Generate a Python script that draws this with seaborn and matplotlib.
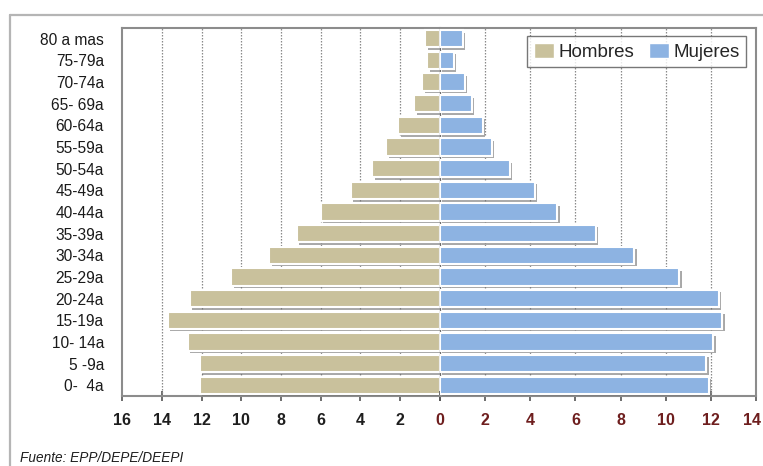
import matplotlib
matplotlib.use("Agg")
import matplotlib.pyplot as plt
import matplotlib.patheffects as pe
import matplotlib.transforms as mtransforms
from matplotlib.patches import Patch
from matplotlib.lines import Line2D
import pandas as pd
import seaborn as sns

# Age groups, top to bottom
grupos = ["80 a mas", "75-79a", "70-74a", "65- 69a", "60-64a", "55-59a", "50-54a",
          "45-49a", "40-44a", "35-39a", "30-34a", "25-29a", "20-24a", "15-19a",
          "10- 14a", "5 -9a", "0-  4a"]
# Population share (%) by sex
hombres = [0.75, 0.65, 0.9, 1.3, 2.1, 2.7, 3.4, 4.5, 6.0, 7.2, 8.6, 10.5, 12.6, 13.7, 12.7, 12.1, 12.1]
mujeres = [1.0, 0.6, 1.1, 1.4, 1.9, 2.3, 3.1, 4.2, 5.2, 6.9, 8.6, 10.6, 12.35, 12.5, 12.1, 11.8, 11.9]

ticks_h = [16, 14, 12, 10, 8, 6, 4, 2, 0]
ticks_m = [0, 2, 4, 6, 8, 10, 12, 14]

df = pd.DataFrame({"grupo": grupos, "Hombres": hombres, "Mujeres": mujeres})

sns.set_theme(style="white")
plt.rcParams["font.family"] = ["Liberation Sans", "DejaVu Sans"]

TAN = "#C9C19C"
BLUE = "#8DB3E2"
DARKRED = "#6E1E1E"
SPINE = "#8C8C8C"
W, H = 763, 466

fig = plt.figure(figsize=(W / 100, H / 100), dpi=100)
x0, x1, x2 = 122, 440, 756
ytop, ybot = 28, 396
axL = fig.add_axes([x0 / W, 1 - ybot / H, (x1 - x0) / W, (ybot - ytop) / H])
axR = fig.add_axes([x1 / W, 1 - ybot / H, (x2 - x1) / W, (ybot - ytop) / H])

shadow = [pe.SimplePatchShadow(offset=(1.8, -1.8), shadow_rgbFace="#6f6f6f", alpha=0.6), pe.Normal()]

sns.barplot(data=df, y="grupo", x="Hombres", order=grupos, color=TAN, saturation=1,
            width=0.8, edgecolor="white", linewidth=1.5, ax=axL, zorder=3)
sns.barplot(data=df, y="grupo", x="Mujeres", order=grupos, color=BLUE, saturation=1,
            width=0.8, edgecolor="white", linewidth=1.5, ax=axR, zorder=3)

for ax in (axL, axR):
    for p in ax.patches:
        p.set_path_effects(shadow)
    ax.set_xlabel("")
    ax.set_ylabel("")
    for s in ax.spines.values():
        s.set_color(SPINE)
        s.set_linewidth(1.5)
    ax.grid(False)

axL.set_xlim(16, 0)
axL.set_xticks(ticks_h)
axL.set_xticklabels([str(t) for t in ticks_h])
axL.spines["right"].set_visible(False)
for t in ticks_h[1:-1]:
    axL.axvline(t, color="#8a8a8a", lw=0.9, ls=(0, (1.2, 1.2)), zorder=1)

axR.set_xlim(0, 14)
axR.set_xticks(ticks_m)
axR.set_xticklabels([str(t) for t in ticks_m])
axR.spines["left"].set_color("#6a6a6a")
axR.spines["left"].set_linewidth(0.9)
axR.set_yticks([])
for t in ticks_m[1:-1]:
    axR.axvline(t, color="#8a8a8a", lw=0.9, ls=(0, (1.2, 1.2)), zorder=1)

axL.tick_params(axis="y", length=0, pad=13, labelsize=11.2, labelcolor="#1a1a1a")
for ax in (axL, axR):
    ax.tick_params(axis="x", direction="inout", length=7, width=1.2, color="#555555",
                   pad=9, labelsize=11.5, bottom=True)

for lab in axL.get_xticklabels():
    lab.set_fontweight("bold")
    lab.set_color(DARKRED if lab.get_text() == "0" else "#1e1e1e")
for lab in axR.get_xticklabels():
    lab.set_fontweight("bold")
    lab.set_color(DARKRED)
axR.get_xticklabels()[0].set_visible(False)
# keep the last label inside the canvas
last = axR.get_xticklabels()[-1]
last.set_transform(last.get_transform() + mtransforms.ScaledTranslation(-4 / 100, 0, fig.dpi_scale_trans))

handles = [Patch(facecolor=TAN, edgecolor="white", label="Hombres"),
           Patch(facecolor=BLUE, edgecolor="white", label="Mujeres")]
leg = axR.legend(handles=handles, ncol=2, loc="upper right",
                 bbox_to_anchor=(746 / W, 1 - 36 / H), bbox_transform=fig.transFigure,
                 frameon=True, fancybox=False, fontsize=13.5, handlelength=1.1,
                 handleheight=0.9, handletextpad=0.2, columnspacing=0.8,
                 borderpad=0.35, borderaxespad=0)
leg.get_frame().set_edgecolor("#555555")
leg.get_frame().set_linewidth(1.0)

# outer frame of the panel
fig.add_artist(Line2D([10 / W, 1], [1 - 15 / H, 1 - 15 / H], transform=fig.transFigure,
                      color="#b5b5b5", lw=1.6))
fig.add_artist(Line2D([10 / W, 10 / W], [0, 1 - 15 / H], transform=fig.transFigure,
                      color="#b5b5b5", lw=1.6))

fig.text(20 / W, 1 - 451 / H, "Fuente: EPP/DEPE/DEEPI", fontsize=9.8, style="italic",
         color="#1e1e1e", va="top", ha="left")

fig.savefig("out.png", dpi=100)
